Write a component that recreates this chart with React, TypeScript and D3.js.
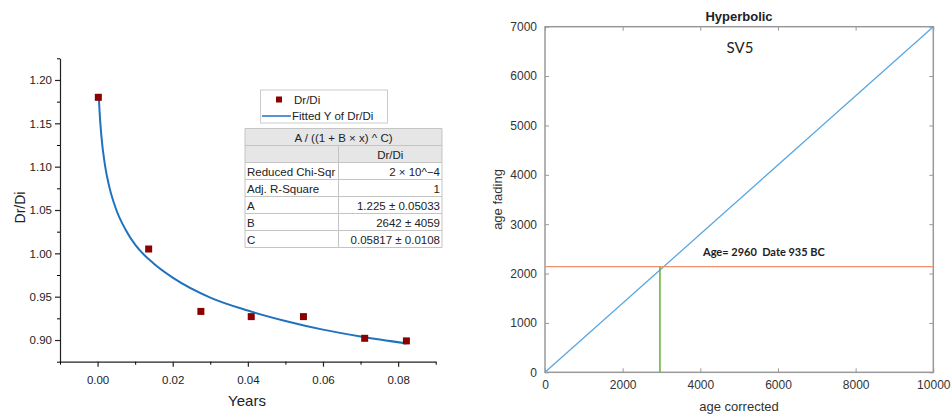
import * as d3 from "d3";
import { useEffect, useRef } from "react";
import * as React from "react";

// measured points (Years vs Dr/Di)
const years = [0.0002, 0.0136, 0.0275, 0.0409, 0.0548, 0.0711, 0.0822];
const ratio = [1.18, 1.005, 0.933, 0.927, 0.927, 0.902, 0.899];

// fitted curve A / ((1 + B x) ^ C) sampled at a few x
const fitX = [0.0003, 0.0005, 0.001, 0.002, 0.003, 0.005, 0.0075, 0.01, 0.015, 0.02, 0.03, 0.04, 0.05, 0.06, 0.07, 0.0823];
const fitY = [1.184, 1.166, 1.136, 1.101, 1.079, 1.05, 1.027, 1.01, 0.988, 0.972, 0.949, 0.934, 0.922, 0.912, 0.904, 0.896];

const yearTicks = [0, 0.02, 0.04, 0.06, 0.08];
const ratioTicks = [0.9, 0.95, 1.0, 1.05, 1.1, 1.15, 1.2];

const tableRows = [
  ["Reduced Chi-Sqr", "2 × 10^−4"],
  ["Adj. R-Square", "1"],
  ["A", "1.225 ± 0.05033"],
  ["B", "2642 ± 4059"],
  ["C", "0.05817 ± 0.0108"],
];

// right chart
const ageCorrected = [0, 10000];
const ageFading = [0, 7000];
const resultAge = 2960;
const resultFading = 2140;
const correctedTicks = [0, 2000, 4000, 6000, 8000, 10000];
const fadingTicks = [0, 1000, 2000, 3000, 4000, 5000, 6000, 7000];

const ARIAL = "'Liberation Sans', Arial, sans-serif";

export default function App() {
  const svgRef = useRef<SVGSVGElement | null>(null);

  useEffect(() => {
    const svg = d3.select(svgRef.current).html("");

    // ---------- left: fit plot ----------
    const x = d3.scaleLinear().domain([-0.01, 0.09]).range([60, 435.7]);
    const y = d3.scaleLinear().domain([0.875, 1.225]).range([361.7, 58.3]);
    const left = svg.append("g");

    const yAx = left.append("g")
      .attr("transform", "translate(60,0)")
      .call(d3.axisLeft(y).tickValues(ratioTicks).tickFormat(d3.format(".2f")).tickSize(5).tickSizeOuter(0));
    left.append("g")
      .attr("transform", "translate(60,0)")
      .call(d3.axisLeft(y).tickValues(d3.range(0.875, 1.23, 0.05)).tickFormat(() => "").tickSize(3).tickSizeOuter(0))
      .select(".domain").remove();
    const xAx = left.append("g")
      .attr("transform", "translate(0,361.7)")
      .call(d3.axisBottom(x).tickValues(yearTicks).tickFormat(d3.format(".2f")).tickSize(5).tickSizeOuter(0));
    left.append("g")
      .attr("transform", "translate(0,361.7)")
      .call(d3.axisBottom(x).tickValues([-0.01, 0.01, 0.03, 0.05, 0.07, 0.09]).tickFormat(() => "").tickSize(3).tickSizeOuter(0))
      .select(".domain").remove();
    [yAx, xAx].forEach(g => {
      g.selectAll("text").attr("font-family", ARIAL).attr("font-size", 11.5).attr("fill", "#222");
      g.selectAll("line, path").attr("stroke", "#222").attr("stroke-width", 1.2);
    });
    xAx.selectAll("text").attr("dy", "1.25em");

    left.append("text").attr("x", 247).attr("y", 406).attr("text-anchor", "middle")
      .attr("font-family", ARIAL).attr("font-size", 15).attr("fill", "#222").text("Years");
    left.append("text").attr("transform", "translate(25,207.5) rotate(-90)").attr("text-anchor", "middle")
      .attr("font-family", ARIAL).attr("font-size", 14).attr("fill", "#222").text("Dr/Di");

    const line = d3.line<number>().x((_, i) => x(fitX[i])).y(d => y(d)).curve(d3.curveMonotoneX);
    left.append("path").attr("d", line(fitY)).attr("fill", "none").attr("stroke", "#1f72c0").attr("stroke-width", 2);

    left.selectAll(".pt").data(ratio).enter().append("rect")
      .attr("x", (_, i) => x(years[i]) - 3.5).attr("y", d => y(d) - 3.5)
      .attr("width", 7).attr("height", 7).attr("fill", "#8b0000");

    // legend
    const lg = left.append("g");
    lg.append("rect").attr("x", 260.5).attr("y", 90).attr("width", 127).attr("height", 33)
      .attr("fill", "white").attr("stroke", "#ccc");
    lg.append("rect").attr("x", 276).attr("y", 96.5).attr("width", 6).attr("height", 6).attr("fill", "#8b0000");
    lg.append("text").attr("x", 294).attr("y", 104).attr("font-family", ARIAL).attr("font-size", 11.5).attr("fill", "#222").text("Dr/Di");
    lg.append("line").attr("x1", 262).attr("x2", 291).attr("y1", 116).attr("y2", 116).attr("stroke", "#1f72c0").attr("stroke-width", 1.5);
    lg.append("text").attr("x", 292).attr("y", 120).attr("font-family", ARIAL).attr("font-size", 11.5).attr("fill", "#222").text("Fitted Y of Dr/Di");

    // parameter table
    const tx0 = 245, tx1 = 442, tmid = 338.5, ty0 = 128.5, rh = 17;
    const tb = left.append("g");
    tb.append("rect").attr("x", tx0).attr("y", ty0).attr("width", tx1 - tx0).attr("height", rh * 2).attr("fill", "#e6e6e6");
    tb.append("rect").attr("x", tx0).attr("y", ty0 + rh * 2).attr("width", tx1 - tx0).attr("height", rh * tableRows.length).attr("fill", "white");
    d3.range(0, tableRows.length + 3).forEach(i => {
      tb.append("line").attr("x1", tx0).attr("x2", tx1).attr("y1", ty0 + i * rh).attr("y2", ty0 + i * rh).attr("stroke", "#c4c4c4");
    });
    const tBottom = ty0 + rh * (tableRows.length + 2);
    tb.append("line").attr("x1", tx0).attr("x2", tx0).attr("y1", ty0).attr("y2", tBottom).attr("stroke", "#c4c4c4");
    tb.append("line").attr("x1", tx1).attr("x2", tx1).attr("y1", ty0).attr("y2", tBottom).attr("stroke", "#c4c4c4");
    tb.append("line").attr("x1", tmid).attr("x2", tmid).attr("y1", ty0 + rh).attr("y2", tBottom).attr("stroke", "#c4c4c4");
    const tText = (tx: number, ty: number, s: string, anchor: string) =>
      tb.append("text").attr("x", tx).attr("y", ty).attr("text-anchor", anchor)
        .attr("font-family", ARIAL).attr("font-size", 11.5).attr("fill", "#222").text(s);
    tText((tx0 + tx1) / 2, ty0 + 13, "A / ((1 + B × x) ^ C)", "middle");
    tText((tmid + tx1) / 2, ty0 + rh + 13, "Dr/Di", "middle");
    tableRows.forEach((r, i) => {
      const ty = ty0 + rh * (i + 2) + 13;
      tText(tx0 + 2, ty, r[0], "start");
      tText(tx1 - 2, ty, r[1], "end");
    });

    // ---------- right: hyperbolic ----------
    const xr = d3.scaleLinear().domain([0, 10000]).range([545, 933.3]);
    const yr = d3.scaleLinear().domain([0, 7000]).range([372.3, 26.7]);
    const right = svg.append("g");
    const GRAY = "#9a9a9a";

    right.append("rect").attr("x", xr(0)).attr("y", yr(7000)).attr("width", xr(10000) - xr(0))
      .attr("height", yr(0) - yr(7000)).attr("fill", "white").attr("stroke", GRAY).attr("stroke-width", 1.5);

    const bx = right.append("g").attr("transform", `translate(0,${yr(0)})`)
      .call(d3.axisBottom(xr).tickValues(correctedTicks).tickFormat(d3.format("d")).tickSizeInner(-4).tickSizeOuter(0).tickPadding(8));
    right.append("g").attr("transform", `translate(0,${yr(7000)})`)
      .call(d3.axisTop(xr).tickValues(correctedTicks).tickFormat(() => "").tickSizeInner(-4).tickSizeOuter(0));
    const ly = right.append("g").attr("transform", `translate(${xr(0)},0)`)
      .call(d3.axisLeft(yr).tickValues(fadingTicks).tickFormat(d3.format("d")).tickSizeInner(-4).tickSizeOuter(0).tickPadding(8));
    right.append("g").attr("transform", `translate(${xr(10000)},0)`)
      .call(d3.axisRight(yr).tickValues(fadingTicks).tickFormat(() => "").tickSizeInner(-4).tickSizeOuter(0));
    right.selectAll(".domain").remove();
    right.selectAll(".tick line").attr("stroke", GRAY);
    [bx, ly].forEach(g => g.selectAll("text").attr("font-family", ARIAL).attr("font-size", 12).attr("fill", "#333"));

    right.append("line").attr("x1", xr(ageCorrected[0])).attr("y1", yr(ageFading[0]))
      .attr("x2", xr(ageCorrected[1])).attr("y2", yr(ageFading[1])).attr("stroke", "#5aa7e0").attr("stroke-width", 1.3);
    right.append("line").attr("x1", xr(0)).attr("x2", xr(10000)).attr("y1", yr(resultFading)).attr("y2", yr(resultFading))
      .attr("stroke", "#f0906e").attr("stroke-width", 1.3);
    right.append("line").attr("x1", xr(resultAge)).attr("x2", xr(resultAge)).attr("y1", yr(0)).attr("y2", yr(resultFading))
      .attr("stroke", "#66b032").attr("stroke-width", 1.5);

    right.append("text").attr("x", 739).attr("y", 21).attr("text-anchor", "middle")
      .attr("font-family", ARIAL).attr("font-size", 13).attr("font-weight", "bold").attr("fill", "#222").text("Hyperbolic");
    right.append("text").attr("x", 740).attr("y", 53).attr("text-anchor", "middle")
      .attr("font-family", "Lato, sans-serif").attr("font-size", 15).attr("fill", "#222").text("SV5");
    right.append("text").attr("x", 703).attr("y", 256)
      .attr("font-family", "Lato, sans-serif").attr("font-size", 11).attr("font-weight", "bold").attr("fill", "#222")
      .attr("xml:space", "preserve").text("Age= " + resultAge + "  Date 935 BC");

    right.append("text").attr("x", 739).attr("y", 411).attr("text-anchor", "middle")
      .attr("font-family", ARIAL).attr("font-size", 13).attr("fill", "#333").text("age corrected");
    right.append("text").attr("transform", "translate(502,199.5) rotate(-90)").attr("text-anchor", "middle")
      .attr("font-family", ARIAL).attr("font-size", 13).attr("fill", "#333").text("age fading");
  }, []);

  return (
    <svg ref={svgRef} width={952} height={416}
      style={{ position: "absolute", left: 0, top: 0, background: "white" }} />
  );
}
